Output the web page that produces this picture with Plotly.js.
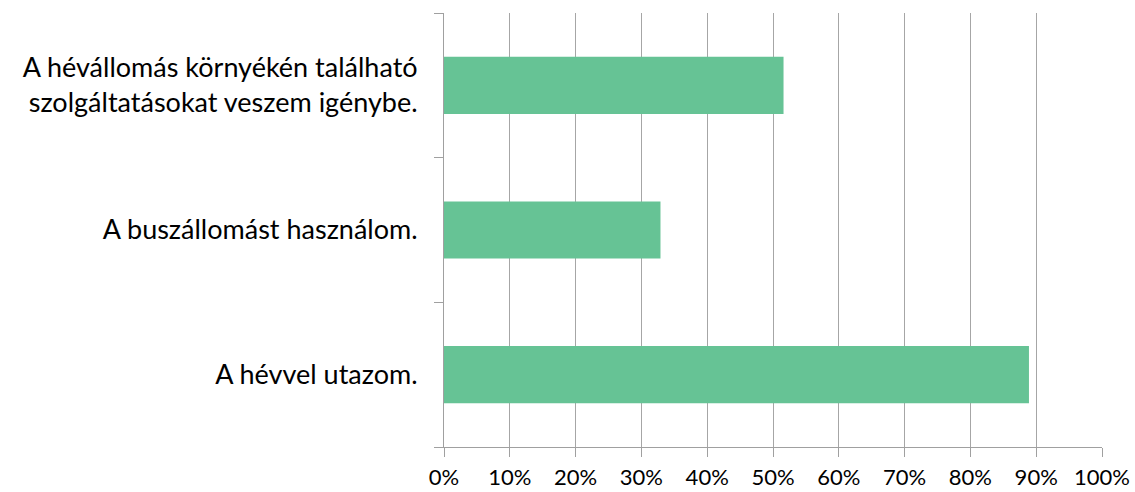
<!DOCTYPE html>
<html>
<head>
<meta charset="utf-8">
<script src="https://cdn.plot.ly/plotly-3.0.1.min.js"></script>
<style>html,body{margin:0;padding:0;background:#fff;}#chart{width:1135px;height:492px;}</style>
</head>
<body>
<div id="chart"></div>
<script>
const categories = [
  "A hévvel utazom.",
  "A buszállomást használom.",
  "A hévállomás környékén található<br>szolgáltatásokat veszem igénybe."
];
const values = [0.889, 0.329, 0.516];
const tickVals = [0, 0.1, 0.2, 0.3, 0.4, 0.5, 0.6, 0.7, 0.8, 0.9, 1.0];
const tickText = ["0%", "10%", "20%", "30%", "40%", "50%", "60%", "70%", "80%", "90%", "100%"];

const trace = {
  type: "bar",
  orientation: "h",
  x: values,
  y: categories,
  marker: {color: "#66C395"},
  hoverinfo: "none"
};

const layout = {
  width: 1135,
  height: 492,
  margin: {l: 444, r: 33, t: 13, b: 45, pad: 0},
  paper_bgcolor: "#ffffff",
  plot_bgcolor: "#ffffff",
  showlegend: false,
  bargap: 0.605,
  font: {family: "Lato, 'Open Sans', sans-serif", size: 22, color: "#000000"},
  xaxis: {
    range: [0, 1],
    tickvals: tickVals,
    ticktext: tickText,
    showgrid: true,
    gridcolor: "#a6a6a6",
    gridwidth: 1,
    zeroline: false,
    showline: true,
    linecolor: "#a0a0a0",
    linewidth: 1,
    ticks: "outside",
    ticklen: 9,
    tickcolor: "#a0a0a0",
    ticklabelstandoff: 2,
    tickfont: {size: 22, color: "#000000"},
    fixedrange: true
  },
  yaxis: {
    type: "category",
    categoryorder: "array",
    categoryarray: categories,
    showgrid: false,
    zeroline: false,
    showline: true,
    linecolor: "#a0a0a0",
    linewidth: 1,
    ticks: "outside",
    tickson: "boundaries",
    ticklen: 9,
    tickcolor: "#a0a0a0",
    ticklabelstandoff: 20,
    tickfont: {size: 27, color: "#000000"},
    fixedrange: true
  }
};

Plotly.newPlot("chart", [trace], layout, {displayModeBar: false, staticPlot: true});
</script>
</body>
</html>
